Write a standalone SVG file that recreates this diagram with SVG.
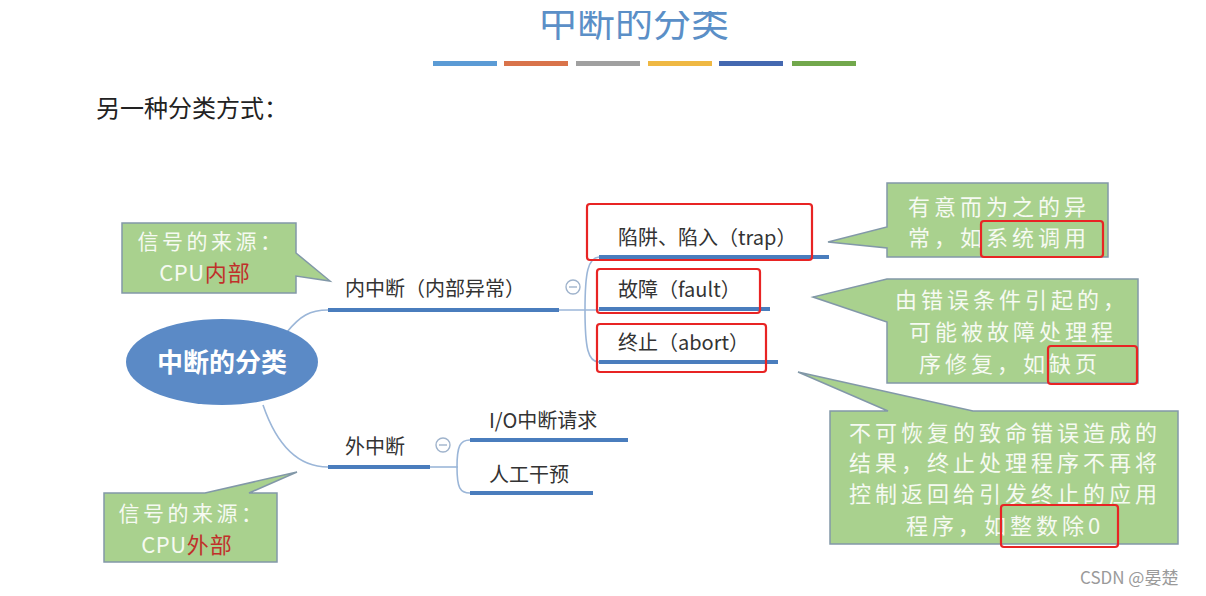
<svg xmlns="http://www.w3.org/2000/svg" width="1206" height="596" viewBox="0 0 1206 596">
<style>
.cjk{font-family:"Noto Sans CJK SC","Noto Sans",sans-serif}
.lbl{font-size:20px;fill:#333333}
.call{fill:#a9d18e;stroke:#8298a8;stroke-width:1.5}
.ct{font-size:22px;fill:#f6faf2;letter-spacing:4px;text-anchor:middle}
.cl{font-size:21px;fill:#f6faf2;letter-spacing:3.5px;text-anchor:middle}
.cpu{font-size:22px;fill:#f6faf2;letter-spacing:0.5px;text-anchor:middle}
.red{fill:#c0302a;letter-spacing:1px}
.ul{stroke:#4a7dbd;stroke-width:4;fill:none}
.thin{stroke:#9bb6d8;stroke-width:1.6;fill:none}
.rb{fill:none;stroke:#e82424;stroke-width:2.2}
.tog{fill:#ffffff;stroke:#9fb3cc;stroke-width:1.4}
</style>
<rect width="1206" height="596" fill="#ffffff"/>
<g id="title">
<text class="cjk" x="634" y="36" font-size="38" fill="#5b8fc7" text-anchor="middle">中断的分类</text>
<rect x="0" y="0" width="1206" height="11" fill="#ffffff"/>
<rect x="433" y="61" width="64" height="5" fill="#5b9bd5"/>
<rect x="504" y="61" width="64" height="5" fill="#d9734a"/>
<rect x="576" y="61" width="64" height="5" fill="#a0a0a0"/>
<rect x="648" y="61" width="64" height="5" fill="#efb843"/>
<rect x="719" y="61" width="64" height="5" fill="#4468b0"/>
<rect x="792" y="61" width="64" height="5" fill="#72a84c"/>
</g>
<g id="subtitle">
<text class="cjk" x="96" y="117" font-size="24" fill="#222222">另一种分类方式：</text>
</g>
<g id="connectors">
<path class="thin" d="M287,332 C300,316 310,310 328,310"/>
<path class="thin" d="M263,405 C275,440 295,467 328,467"/>
<path class="thin" d="M559,310 H599"/>
<path class="thin" d="M585,310 C585,272 588,258 599,257"/>
<path class="thin" d="M585,310 C585,348 588,362 599,362"/>
<path class="thin" d="M430,467 H458"/>
<path class="thin" d="M457,467 C457,446 460,440 470,440"/>
<path class="thin" d="M457,467 C457,488 460,493 470,493"/>
</g>
<g id="root">
<ellipse cx="222" cy="362" rx="96" ry="43" fill="#5b8ac6"/>
<text class="cjk" x="222" y="372" font-size="26" font-weight="bold" fill="#ffffff" text-anchor="middle">中断的分类</text>
</g>
<g id="internal">
<text class="cjk lbl" x="345" y="296">内中断（内部异常）</text>
<path class="ul" d="M328,310 H559"/>
<circle class="tog" cx="573" cy="287" r="7"/>
<path d="M569,287 H577" stroke="#9fb3cc" stroke-width="1.4"/>
</g>
<g id="external">
<text class="cjk lbl" x="345" y="454" font-size="21">外中断</text>
<path class="ul" d="M328,467 H430"/>
<circle class="tog" cx="443" cy="445" r="7"/>
<path d="M439,445 H447" stroke="#9fb3cc" stroke-width="1.4"/>
</g>
<g id="trap">
<text class="cjk lbl" x="618" y="245" font-size="19">陷阱、陷入（trap）</text>
<path class="ul" d="M599,257 H829"/>
<rect class="rb" x="587" y="204" width="225" height="56" rx="3"/>
</g>
<g id="fault">
<text class="cjk lbl" x="618" y="297" font-size="19">故障（fault）</text>
<path class="ul" d="M599,309 H770"/>
<rect class="rb" x="597" y="269" width="163" height="44" rx="3"/>
</g>
<g id="abort">
<text class="cjk lbl" x="618" y="350" font-size="19">终止（abort）</text>
<path class="ul" d="M599,362 H778"/>
<rect class="rb" x="597" y="324" width="169" height="48" rx="3"/>
</g>
<g id="io">
<text class="cjk lbl" x="489" y="428" font-size="21">I/O中断请求</text>
<path class="ul" d="M470,440 H628"/>
</g>
<g id="manual">
<text class="cjk lbl" x="489" y="482" font-size="21">人工干预</text>
<path class="ul" d="M470,493 H593"/>
</g>
<g id="note-internal">
<path class="call" d="M122,223 H296 V253 L330,281 L296,276 V293 H122 Z"/>
<text class="cjk cl" x="211" y="249">信号的来源：</text>
<text class="cjk cpu" x="205" y="281">CPU<tspan class="red">内部</tspan></text>
</g>
<g id="note-external">
<path class="call" d="M104,493 H205 L297,472 L249,493 H277 V562 H104 Z"/>
<text class="cjk cl" x="192" y="521">信号的来源：</text>
<text class="cjk cpu" x="187" y="553">CPU<tspan class="red">外部</tspan></text>
</g>
<g id="note-trap">
<path class="call" d="M887,183 H1108 V257 H887 V248 L828,242 L887,227 Z"/>
<text class="cjk ct" x="999" y="215">有意而为之的异</text>
<text class="cjk ct" x="999" y="246">常，如系统调用</text>
<rect class="rb" x="981" y="221" width="122" height="36" rx="3"/>
</g>
<g id="note-fault">
<path class="call" d="M887,279 H1138 V383 H887 V322 L813,297 Z"/>
<text class="cjk ct" x="1012" y="308">由错误条件引起的，</text>
<text class="cjk ct" x="1013" y="340">可能被故障处理程</text>
<text class="cjk ct" x="1010" y="372">序修复，如缺页</text>
<rect class="rb" x="1048" y="346" width="89" height="38" rx="3"/>
</g>
<g id="note-abort">
<path class="call" d="M830,411 H888 L798,372 L973,411 H1178 V544 H830 Z"/>
<text class="cjk ct" x="1005" y="441">不可恢复的致命错误造成的</text>
<text class="cjk ct" x="1005" y="471">结果，终止处理程序不再将</text>
<text class="cjk ct" x="1005" y="502">控制返回给引发终止的应用</text>
<text class="cjk ct" x="1005" y="534">程序，如整数除0</text>
<rect class="rb" x="1001" y="505" width="117" height="42" rx="3"/>
</g>
<g id="watermark">
<text class="cjk" x="1080" y="584" font-size="17" fill="#9a9a9a">CSDN @晏楚</text>
</g>
</svg>
